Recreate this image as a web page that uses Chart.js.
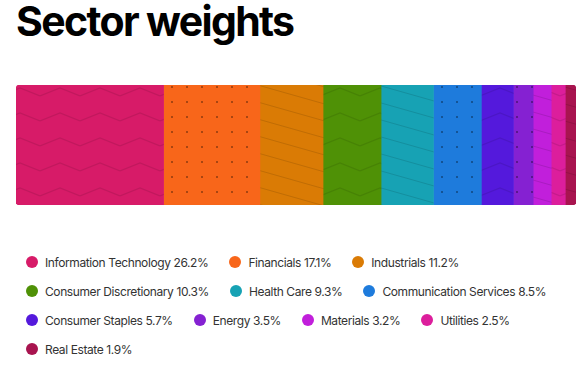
<!DOCTYPE html>
<html>
<head>
<meta charset="utf-8">
<script src="https://cdn.jsdelivr.net/npm/chart.js@4.4.1/dist/chart.umd.min.js"></script>
<style>
  body { margin: 0; background: #fff; font-family: Inter, sans-serif; width: 582px; height: 366px; overflow: hidden; position: relative; }
  h1 { position: absolute; left: 16px; top: 1px; margin: 0; font-size: 41px; line-height: 41px; font-weight: 700; letter-spacing: -1.65px; color: #000; }
  #wrap { position: absolute; left: 0; top: 80px; width: 582px; height: 130px; }
  #legend { position: absolute; left: 26px; top: 253px; width: 552px; display: flex; flex-wrap: wrap; column-gap: 21px; row-gap: 11px; }
  .item { display: flex; align-items: center; height: 18px; font-size: 12px; letter-spacing: -0.4px; color: #333; white-space: nowrap; }
  .dot { width: 12px; height: 12px; border-radius: 50%; margin-right: 7px; }
</style>
</head>
<body>
<h1>Sector weights</h1>
<div id="wrap"><canvas id="chart" width="582" height="130"></canvas></div>
<div id="legend"></div>
<script>
// ===== Data =====
const sectors = ["Information Technology", "Financials", "Industrials", "Consumer Discretionary", "Health Care",
  "Communication Services", "Consumer Staples", "Energy", "Materials", "Utilities", "Real Estate"];
const weights = [26.2, 17.1, 11.2, 10.3, 9.3, 8.5, 5.7, 3.5, 3.2, 2.5, 1.9];

// ===== Styles =====
const colors = ["#d71b68", "#f8661a", "#da7b05", "#4f9106", "#17a2b4", "#1e7bdc",
  "#5419dc", "#8521d2", "#c11fdb", "#dc1e9c", "#a8144f"];
const patterns = ["zigzag", "dots", "diagonal", "zigzag", "diagonal", "dots",
  "zigzag", "dots", "diagonal", "zigzag", "diagonal"];

const total = weights.reduce((a, b) => a + b, 0);

// build a canvas pattern: base colour + darker marks
function makePattern(color, kind) {
  const c = document.createElement("canvas");
  const g = c.getContext("2d");
  if (kind === "dots") {
    c.width = 15; c.height = 15;
    g.fillStyle = color; g.fillRect(0, 0, 15, 15);
    g.fillStyle = "rgba(0,0,0,0.32)";
    g.fillRect(6, 6, 2, 2);
  } else if (kind === "diagonal") {
    c.width = 60; c.height = 17;
    g.fillStyle = color; g.fillRect(0, 0, 60, 17);
    g.strokeStyle = "rgba(0,0,0,0.12)"; g.lineWidth = 1;
    for (let k = -1; k <= 1; k++) {
      g.beginPath(); g.moveTo(0, k * 17); g.lineTo(60, 17 + k * 17); g.stroke();
    }
  } else {
    c.width = 40; c.height = 25;
    g.fillStyle = color; g.fillRect(0, 0, 40, 25);
    g.strokeStyle = "rgba(0,0,0,0.1)"; g.lineWidth = 1.2;
    g.beginPath(); g.moveTo(0, 16); g.lineTo(20, 8); g.lineTo(40, 16); g.stroke();
  }
  return g.createPattern(c, "repeat");
}

function cornerRadius(i) {
  if (i === 0) return { topLeft: 4, bottomLeft: 4, topRight: 0, bottomRight: 0 };
  if (i === sectors.length - 1) return { topLeft: 0, bottomLeft: 0, topRight: 4, bottomRight: 4 };
  return 0;
}

// ===== Bar =====
const ctx = document.getElementById("chart").getContext("2d");
new Chart(ctx, {
  type: "bar",
  data: {
    labels: [""],
    datasets: sectors.map((s, i) => ({
      label: s,
      data: [weights[i]],
      backgroundColor: makePattern(colors[i], patterns[i]),
      borderWidth: 0,
      borderSkipped: false,
      borderRadius: cornerRadius(i),
      barPercentage: 1,
      categoryPercentage: 1
    }))
  },
  options: {
    indexAxis: "y",
    responsive: false,
    animation: false,
    layout: { padding: { left: 16, right: 6, top: 5, bottom: 5 } },
    plugins: { legend: { display: false }, tooltip: { enabled: false } },
    scales: {
      x: { stacked: true, display: false, min: 0, max: total },
      y: { stacked: true, display: false }
    }
  }
});

// ===== Legend =====
const legend = document.getElementById("legend");
sectors.forEach((s, i) => {
  const item = document.createElement("div");
  item.className = "item";
  item.innerHTML = `<span class="dot" style="background:${colors[i]}"></span>${s} ${weights[i].toFixed(1)}%`;
  legend.appendChild(item);
});
</script>
</body>
</html>
